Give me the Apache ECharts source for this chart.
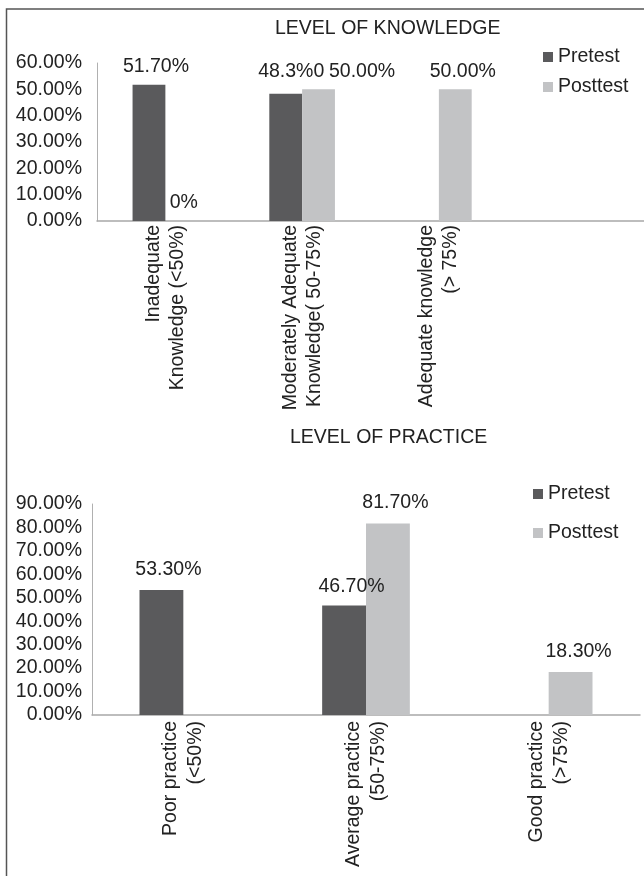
<!DOCTYPE html>
<html>
<head>
<meta charset="utf-8">
<script src="https://cdn.jsdelivr.net/npm/echarts@6/dist/echarts.min.js"></script>
<style>
  html, body { margin: 0; padding: 0; background: #ffffff; }
  #chart { width: 644px; height: 876px; }
</style>
</head>
<body>
<div id="chart"></div>
<script>
// ---- Data ----
const seriesNames = ['Pretest', 'Posttest'];

const knowledgeTitle = 'LEVEL OF KNOWLEDGE';
const knowledgeCategories = ['Inadequate\nKnowledge (<50%)', 'Moderately Adequate\nKnowledge( 50-75%)', 'Adequate knowledge\n(> 75%)', ''];
const knowledgePretest = [51.7, 48.3, null, null];
const knowledgePosttest = [0, 50.0, 50.0, null];
const knowledgePretestLabels = ['51.70%', '48.3%0', '', ''];
const knowledgePosttestLabels = ['0%', '50.00%', '50.00%', ''];
const knowledgeAxisMax = 60;

const practiceTitle = 'LEVEL OF PRACTICE';
const practiceCategories = ['Poor practice\n(<50%)', 'Average practice\n(50-75%)', 'Good practice\n(>75%)'];
const practicePretest = [53.3, 46.7, null];
const practicePosttest = [null, 81.7, 18.3];
const practicePretestLabels = ['53.30%', '46.70%', ''];
const practicePosttestLabels = ['', '81.70%', '18.30%'];
const practiceAxisMax = 90;

const tickInterval = 10;

// ---- Styling ----
const FONT = "'Liberation Sans', Arial, sans-serif";
const TEXT = '#222222';
const PRE_COLOR = '#5a5a5c';
const POST_COLOR = '#c2c3c5';
const FS = 19.5;

// label offsets (style only)
const kPreOff = [[7, -8.4], [5.5, -12.5], [0, 0], [0, 0]];
const kPostOff = [[2, -8], [43.5, -8], [7.5, -8], [0, 0]];
const pPreOff = [[7, -10], [7.5, -9], [0, 0]];
const pPostOff = [[0, 0], [7.5, -10.5], [8, -10]];

function buildData(values, labels, offsets) {
  return values.map((v, i) => ({
    value: v,
    label: { formatter: labels[i], offset: offsets[i] }
  }));
}

const labelBase = {
  show: true, position: 'top', distance: 0,
  fontFamily: FONT, fontSize: FS, color: TEXT, lineHeight: 20
};

function barSeries(name, color, xi, values, labels, offsets) {
  return {
    name: name, type: 'bar', xAxisIndex: xi, yAxisIndex: xi,
    barGap: '0%', barCategoryGap: '52%',
    itemStyle: { color: color },
    label: labelBase,
    data: buildData(values, labels, offsets),
    emphasis: { disabled: true }
  };
}

const pctFmt = v => v.toFixed(2) + '%';

const chart = echarts.init(document.getElementById('chart'), null, { renderer: 'canvas' });
chart.setOption({
  animation: false,
  backgroundColor: '#ffffff',
  textStyle: { fontFamily: FONT },
  title: [
    { text: knowledgeTitle, left: 275, top: 19, padding: 0,
      textStyle: { fontFamily: FONT, fontSize: FS, fontWeight: 'normal', color: TEXT } },
    { text: practiceTitle, left: 290, top: 428, padding: 0,
      textStyle: { fontFamily: FONT, fontSize: FS, fontWeight: 'normal', color: TEXT } }
  ],
  legend: [
    { data: seriesNames, orient: 'vertical', left: 543, top: 47, padding: 0,
      icon: 'rect', itemWidth: 10, itemHeight: 10, itemGap: 10,
      textStyle: { fontFamily: FONT, fontSize: FS, color: TEXT, lineHeight: 20 } },
    { data: seriesNames, orient: 'vertical', left: 533, top: 484, padding: 0,
      icon: 'rect', itemWidth: 10, itemHeight: 10, itemGap: 19,
      textStyle: { fontFamily: FONT, fontSize: FS, color: TEXT, lineHeight: 20 } }
  ],
  grid: [
    { left: 97, top: 63, width: 548, height: 158, containLabel: false },
    { left: 92, top: 504, width: 548, height: 211, containLabel: false }
  ],
  xAxis: [
    { type: 'category', gridIndex: 0, data: knowledgeCategories,
      axisLine: { lineStyle: { color: '#a8a8a8', width: 1.5 } },
      axisTick: { show: false },
      axisLabel: { interval: 0, rotate: 90, margin: 4, fontFamily: FONT, fontSize: FS, color: TEXT, lineHeight: 24 } },
    { type: 'category', gridIndex: 1, data: practiceCategories,
      axisLine: { lineStyle: { color: '#a8a8a8', width: 1.5 } },
      axisTick: { show: false },
      axisLabel: { interval: 0, rotate: 90, margin: 6, fontFamily: FONT, fontSize: FS, color: TEXT, lineHeight: 25 } }
  ],
  yAxis: [
    { type: 'value', gridIndex: 0, min: 0, max: knowledgeAxisMax, interval: tickInterval,
      axisLine: { show: true, lineStyle: { color: '#b0b0b0', width: 1 } },
      axisTick: { show: false }, splitLine: { show: false },
      axisLabel: { formatter: pctFmt, margin: 15, fontFamily: FONT, fontSize: FS, color: TEXT } },
    { type: 'value', gridIndex: 1, min: 0, max: practiceAxisMax, interval: tickInterval,
      axisLine: { show: true, lineStyle: { color: '#b0b0b0', width: 1 } },
      axisTick: { show: false }, splitLine: { show: false },
      axisLabel: { formatter: pctFmt, margin: 10, fontFamily: FONT, fontSize: FS, color: TEXT } }
  ],
  graphic: [
    { type: 'rect', silent: true, z: 100,
      shape: { x: 6.5, y: 9, width: 700, height: 900 },
      style: { fill: 'none', stroke: '#555555', lineWidth: 1.5 } }
  ],
  series: [
    barSeries(seriesNames[0], PRE_COLOR, 0, knowledgePretest, knowledgePretestLabels, kPreOff),
    barSeries(seriesNames[1], POST_COLOR, 0, knowledgePosttest, knowledgePosttestLabels, kPostOff),
    barSeries(seriesNames[0], PRE_COLOR, 1, practicePretest, practicePretestLabels, pPreOff),
    barSeries(seriesNames[1], POST_COLOR, 1, practicePosttest, practicePosttestLabels, pPostOff)
  ]
});
</script>
</body>
</html>
